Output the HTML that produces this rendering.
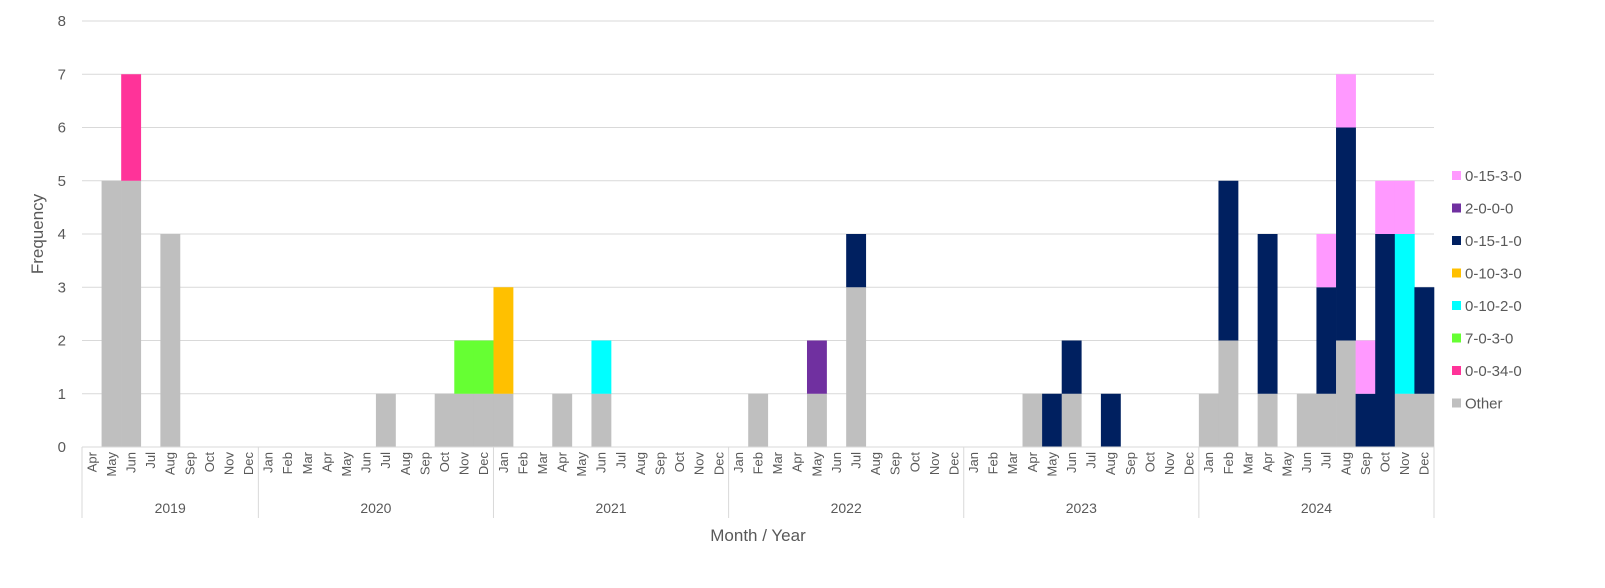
<!DOCTYPE html>
<html><head><meta charset="utf-8"><style>
body{margin:0;background:#fff}
svg text{font-family:"Liberation Sans",Arial,sans-serif;fill:#595959}
</style></head><body>
<svg id="s" width="1605" height="583" xmlns="http://www.w3.org/2000/svg"></svg>
<script>
const s=document.getElementById('s');
let h='';
const x0=82,x1=1434,y0=447,u=53.25,w=(x1-x0)/69;
for(let i=0;i<=8;i++){const y=y0-i*u;
 if(i>0)h+=`<line x1="${x0}" x2="${x1}" y1="${y}" y2="${y}" stroke="#d9d9d9" stroke-width="1"/>`;
 h+=`<text x="66" y="${y+5}" font-size="15" text-anchor="end">${i}</text>`;}
const C={g:'#bfbfbf',r:'#ff3399',gr:'#66ff33',o:'#ffc000',c:'#00ffff',n:'#002060',p:'#7030a0',l:'#ff99ff'};
// index: Apr2019=0
function idx(y,m){return (y-2019)*12+m-4;}
const D=[[2019,5,[['g',5]]],[2019,6,[['g',5],['r',2]]],[2019,8,[['g',4]]],
[2020,7,[['g',1]]],[2020,10,[['g',1]]],[2020,11,[['g',1],['gr',1]]],[2020,12,[['g',1],['gr',1]]],
[2021,1,[['g',1],['o',2]]],[2021,4,[['g',1]]],[2021,6,[['g',1],['c',1]]],
[2022,2,[['g',1]]],[2022,5,[['g',1],['p',1]]],[2022,7,[['g',3],['n',1]]],
[2023,4,[['g',1]]],[2023,5,[['n',1]]],[2023,6,[['g',1],['n',1]]],[2023,8,[['n',1]]],
[2024,1,[['g',1]]],[2024,2,[['g',2],['n',3]]],[2024,4,[['g',1],['n',3]]],[2024,6,[['g',1]]],
[2024,7,[['g',1],['n',2],['l',1]]],[2024,8,[['g',2],['n',4],['l',1]]],[2024,9,[['n',1],['l',1]]],
[2024,10,[['n',4],['l',1]]],[2024,11,[['g',1],['c',3],['l',1]]],[2024,12,[['g',1],['n',2]]]];
for(const [y,m,st] of D){const x=x0+idx(y,m)*w;let b=0;
 for(const [k,v] of st){h+=`<rect x="${x}" y="${y0-(b+v)*u}" width="${w+0.3}" height="${v*u}" fill="${C[k]}"/>`;b+=v;}}
h+=`<line x1="${x0}" x2="${x1}" y1="${y0}" y2="${y0}" stroke="#d9d9d9"/>`;
const M=['Jan','Feb','Mar','Apr','May','Jun','Jul','Aug','Sep','Oct','Nov','Dec'];
for(let i=0;i<69;i++){const m=(i+3)%12;const cx=x0+i*w+w/2+4.5;
 h+=`<text transform="translate(${cx},452) rotate(-90)" font-size="13" text-anchor="end">${M[m]}</text>`;}
const B=[0,9,21,33,45,57,69];
for(const b of B){const x=x0+b*w;h+=`<line x1="${x}" x2="${x}" y1="${y0}" y2="518" stroke="#d9d9d9"/>`;}
for(let k=0;k<6;k++){const cx=x0+(B[k]+B[k+1])/2*w;h+=`<text x="${cx}" y="513" font-size="14" text-anchor="middle">${2019+k}</text>`;}
h+=`<text x="758" y="541" font-size="17" text-anchor="middle">Month / Year</text>`;
h+=`<text transform="translate(43,234) rotate(-90)" font-size="17" text-anchor="middle">Frequency</text>`;
const L=[['l','0-15-3-0'],['p','2-0-0-0'],['n','0-15-1-0'],['o','0-10-3-0'],['c','0-10-2-0'],['gr','7-0-3-0'],['r','0-0-34-0'],['g','Other']];
L.forEach(([k,t],i)=>{const y=176+i*32.5;h+=`<rect x="1452" y="${y-5}" width="9" height="9" fill="${C[k]}"/><text x="1465" y="${y+5}" font-size="15">${t}</text>`;});
s.innerHTML=h;
</script></body></html>
